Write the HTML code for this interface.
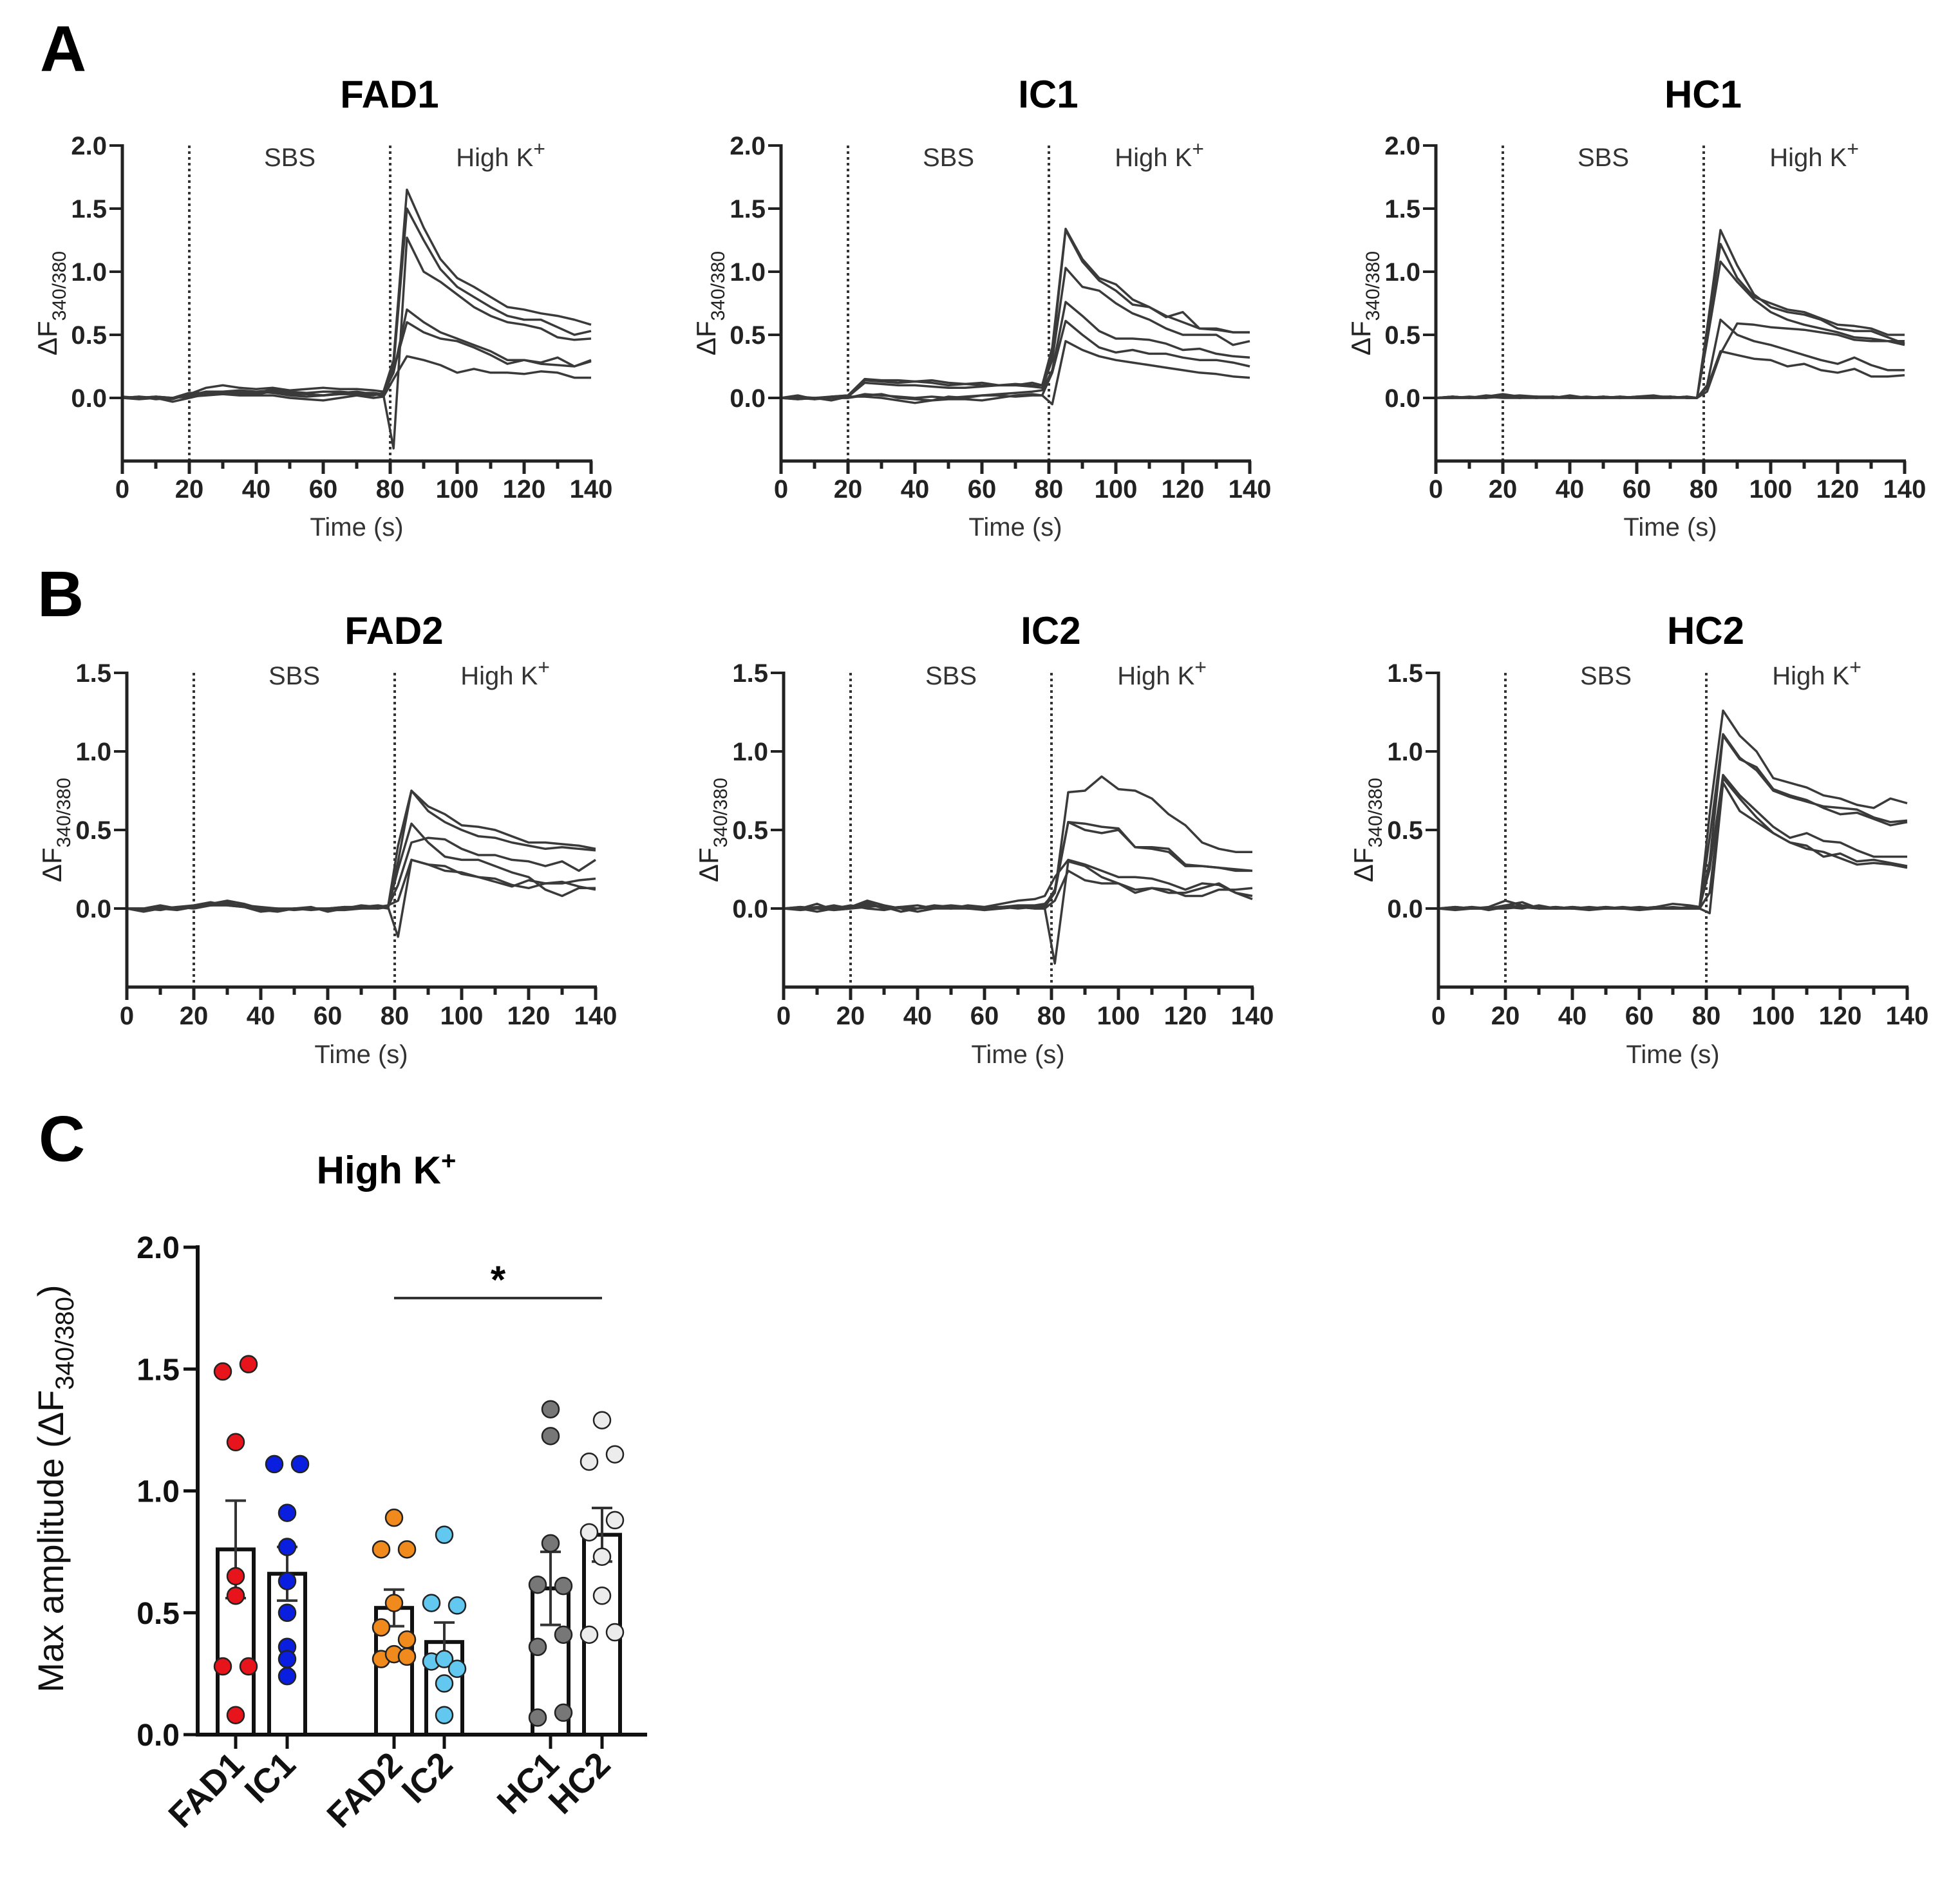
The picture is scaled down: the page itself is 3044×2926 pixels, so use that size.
<!DOCTYPE html>
<html>
<head>
<meta charset="utf-8">
<style>
html,body{margin:0;padding:0;background:#fff;}
svg{display:block;font-family:"Liberation Sans",Arial,sans-serif;}
</style>
</head>
<body>
<svg id="fig" width="3044" height="2926" viewBox="0 0 3044 2926" xmlns="http://www.w3.org/2000/svg">
<rect x="0" y="0" width="3044" height="2926" fill="#fff"/>
<text x="62" y="110" font-size="100" font-weight="bold">A</text>
<text x="58" y="957" font-size="100" font-weight="bold">B</text>
<text x="60" y="1803" font-size="100" font-weight="bold">C</text>
<g id="plots"></g>
</svg>
<script>
// ---------- Trace data ----------
const times = [0,5,10,15,20,25,30,35,40,45,50,55,60,65,70,75,78,81,85,90,95,100,105,110,115,120,125,130,135,140];
const panelTitles = ["FAD1","IC1","HC1","FAD2","IC2","HC2"];
const rowATicks = [0,0.5,1,1.5,2];
const rowATickLabels = ["0.0","0.5","1.0","1.5","2.0"];
const rowBTicks = [0,0.5,1,1.5];
const rowBTickLabels = ["0.0","0.5","1.0","1.5"];
const xTicks = [0,20,40,60,80,100,120,140];
const xMinor = [10,30,50,70,90,110,130];

const fad1 = [
 [0,0.01,0,-0.01,0.03,0.08,0.1,0.08,0.07,0.08,0.06,0.07,0.08,0.07,0.07,0.06,0.05,0.3,1.65,1.35,1.1,0.95,0.88,0.8,0.72,0.7,0.67,0.65,0.62,0.58],
 [0,0,0.01,0,0.02,0.05,0.05,0.06,0.05,0.06,0.05,0.04,0.05,0.05,0.04,0.04,0.03,0.25,1.5,1.25,1.02,0.88,0.8,0.72,0.65,0.62,0.62,0.56,0.5,0.53],
 [0,-0.01,0,-0.03,0,0.03,0.04,0.05,0.04,0.07,0.03,0.03,0.02,0.03,0.04,0.03,0.02,-0.4,1.27,1.0,0.92,0.82,0.72,0.65,0.6,0.58,0.55,0.48,0.46,0.47],
 [0.01,0,0,0,0.04,0.04,0.03,0.04,0.05,0.04,0.02,0.01,0.02,0.03,0.03,0.02,0.04,0.2,0.7,0.6,0.52,0.47,0.42,0.37,0.3,0.3,0.28,0.32,0.25,0.3],
 [0,0.01,-0.01,0,0.02,0.03,0.04,0.03,0.03,0.05,0.04,0.03,0.02,0.04,0.05,0.03,0.02,0.22,0.6,0.52,0.47,0.45,0.4,0.34,0.27,0.3,0.27,0.26,0.25,0.29],
 [0,0,0.01,0,0.01,0.02,0.03,0.02,0.02,0.02,0,-0.01,-0.02,0,0.02,0,0.01,0.15,0.33,0.3,0.26,0.2,0.23,0.2,0.2,0.19,0.21,0.2,0.16,0.16]
];
const ic1 = [
 [0,0.02,-0.01,0.01,0.02,0.15,0.14,0.14,0.13,0.14,0.12,0.11,0.12,0.1,0.1,0.12,0.1,0.4,1.34,1.1,0.95,0.9,0.78,0.72,0.64,0.68,0.55,0.55,0.52,0.52],
 [0,-0.01,0,0.01,0.02,0.14,0.13,0.12,0.13,0.12,0.1,0.11,0.1,0.1,0.11,0.1,0.1,0.35,1.33,1.08,0.93,0.85,0.74,0.72,0.65,0.6,0.55,0.54,0.52,0.52],
 [0,0.01,0,0,0.01,0.12,0.11,0.1,0.1,0.09,0.08,0.08,0.09,0.1,0.1,0.09,0.08,0.3,1.03,0.88,0.85,0.75,0.67,0.62,0.55,0.5,0.5,0.5,0.42,0.45],
 [0,0,-0.01,0,0,0.02,0.03,0,-0.01,-0.02,0.01,0,0.02,0.03,0.04,0.05,0.06,0.22,0.76,0.65,0.53,0.47,0.47,0.46,0.43,0.38,0.39,0.35,0.33,0.32],
 [0,0,0,-0.02,0.01,0.01,0,-0.02,-0.04,-0.02,-0.01,-0.01,-0.02,0,0.02,0.03,0.02,0.2,0.61,0.5,0.4,0.36,0.38,0.35,0.35,0.32,0.3,0.3,0.28,0.25],
 [0,-0.01,0,0,0,0.03,0.02,0.01,0,0.01,0,0.01,0.02,0.02,0.01,0.02,0.02,-0.05,0.45,0.38,0.33,0.3,0.28,0.26,0.24,0.22,0.2,0.19,0.17,0.16]
];
const hc1 = [
 [0,0.01,0,0.02,0.01,0,0.01,0,0.02,0,0.01,0,0.01,0.02,0,0.01,0,0.55,1.33,1.05,0.82,0.72,0.68,0.66,0.62,0.55,0.53,0.53,0.48,0.43],
 [0,0,0.01,0,0.02,0.01,0,0.01,0,0.01,0,0.01,0,0.01,0.01,0,0,0.5,1.22,0.95,0.8,0.75,0.7,0.68,0.63,0.58,0.57,0.55,0.5,0.5],
 [0,0.01,0,0.01,0,0,0.01,0.01,0,0,0.01,0,0,0,0.01,0,0,0.45,1.08,0.92,0.78,0.68,0.62,0.58,0.55,0.52,0.48,0.47,0.45,0.42],
 [0,0,0,0.01,0.03,0.01,0,0,0.01,0,0,0,0.01,0,0,0.01,0,0.1,0.62,0.5,0.45,0.42,0.38,0.34,0.3,0.27,0.32,0.26,0.22,0.22],
 [0,0.01,0,0,0.01,0.02,0.01,0,0,0,0,0.01,0,0,0,0,0,0.05,0.35,0.59,0.58,0.56,0.55,0.54,0.52,0.5,0.46,0.45,0.45,0.45],
 [0,0,0,0,0.02,0,0,0.01,0,0,0,0,0,0,0.01,0,0,0.08,0.37,0.34,0.31,0.3,0.25,0.27,0.22,0.2,0.23,0.17,0.17,0.18]
];
const fad2 = [
 [0,-0.01,0.01,0,0.02,0.03,0.04,0.01,0,-0.01,0,0,-0.01,0,0.01,0,0.01,0.4,0.75,0.65,0.6,0.53,0.52,0.5,0.46,0.42,0.42,0.41,0.4,0.38],
 [0,0,0,-0.01,0.01,0.02,0.03,0.02,0.01,0,0,-0.01,0,0.01,0.01,0.02,0.01,0.3,0.75,0.62,0.55,0.5,0.46,0.45,0.42,0.4,0.38,0.39,0.38,0.37],
 [0,-0.02,0,0.01,0.02,0.04,0.02,0.01,-0.02,-0.01,0,0.01,-0.02,0,0.02,0.01,0,0.25,0.54,0.42,0.33,0.31,0.31,0.27,0.23,0.2,0.12,0.08,0.13,0.13],
 [0,0,0.02,0,0.01,0.03,0.05,0.03,0,0,-0.01,0,0,0,0.01,0.01,0.01,0.15,0.42,0.45,0.44,0.38,0.34,0.34,0.31,0.3,0.27,0.3,0.24,0.31],
 [0,-0.01,0,0,0.01,0.02,0.02,0.01,-0.01,-0.02,0,0,-0.01,-0.01,0,0,0.01,-0.18,0.31,0.28,0.24,0.23,0.2,0.17,0.14,0.18,0.16,0.16,0.18,0.19],
 [0,0,-0.01,0.01,0,0.02,0.03,0.01,0,-0.01,0,0,0,0.01,0,0.01,0.02,0.05,0.31,0.28,0.27,0.22,0.2,0.19,0.15,0.13,0.16,0.17,0.14,0.12]
];
const ic2 = [
 [0,0.01,0,0.02,0,0.04,0,0.01,0,0.02,0.01,0,-0.01,0.01,0.02,0.02,0.03,0.1,0.74,0.75,0.84,0.76,0.75,0.7,0.6,0.53,0.42,0.38,0.36,0.36],
 [0,0,0.03,-0.01,0,0.02,0.01,-0.02,0,0.01,0.02,0.01,-0.01,0,0.01,0.01,0.02,0.12,0.55,0.54,0.52,0.51,0.39,0.39,0.38,0.28,0.27,0.26,0.24,0.24],
 [0,-0.01,0,0.01,0.01,0.03,0,0.01,0.02,0,0,0.02,0.01,0.01,0,0.01,0.01,0.1,0.55,0.5,0.48,0.5,0.39,0.38,0.36,0.27,0.27,0.26,0.25,0.24],
 [0,0,-0.02,0,0.01,0.05,0.02,-0.02,0,0.01,0,0,0.01,0.03,0.05,0.06,0.08,0.2,0.31,0.28,0.24,0.2,0.2,0.19,0.16,0.12,0.16,0.15,0.1,0.06],
 [0,0.01,0,-0.01,0,0.01,0.02,0,-0.02,0,0.01,0,0,0.01,0.01,0,0,-0.35,0.3,0.27,0.2,0.16,0.12,0.13,0.1,0.1,0.13,0.16,0.1,0.08],
 [0,0,0.01,0,0.02,0,-0.01,0.01,0,0.01,0,0.01,0,0,0.01,0,0,0.05,0.24,0.18,0.16,0.16,0.1,0.13,0.12,0.08,0.08,0.12,0.12,0.13]
];
const hc2 = [
 [0,0.01,0,0,0.02,0.04,0,0,0.01,0,0.01,0,0,0.01,0.03,0.02,0.01,0.6,1.26,1.1,1.0,0.83,0.8,0.77,0.72,0.7,0.66,0.64,0.7,0.67],
 [0,0,0.01,-0.01,0.01,0.02,0.01,0,0,-0.01,0,0.01,0,0,0.01,0,0,0.45,1.11,0.96,0.88,0.75,0.71,0.68,0.65,0.64,0.63,0.58,0.55,0.56],
 [0,-0.01,0,0,0,0.01,0,0.01,0,0,0.01,0,-0.01,0,0,0.01,0,0.3,1.1,0.95,0.9,0.76,0.72,0.69,0.64,0.6,0.61,0.57,0.53,0.55],
 [0,0,0.01,0,0.01,0,0.02,0,0.01,0,0,0,0.01,0,0,0,0.01,0.25,0.85,0.72,0.62,0.52,0.45,0.48,0.43,0.42,0.37,0.33,0.33,0.33],
 [0,0.01,0,0.01,0.05,0.02,0,0,0,0.01,0,0,0,0.01,0,0,0,0.1,0.83,0.7,0.58,0.48,0.42,0.4,0.33,0.35,0.3,0.31,0.29,0.27],
 [0,0,0,0,0.02,0.01,0,0.01,0,0,0,0,0,0,0,0,0,-0.03,0.8,0.62,0.55,0.48,0.42,0.38,0.36,0.32,0.28,0.29,0.28,0.26]
];
const panelSeries = [fad1, ic1, hc1, fad2, ic2, hc2];

// ---------- Bar chart data (panel C) ----------
const groups = ["FAD1","IC1","FAD2","IC2","HC1","HC2"];
const groupMeans = [0.76,0.66,0.52,0.38,0.60,0.82];
const groupSem = [0.20,0.11,0.075,0.08,0.15,0.11];
const groupFill = ["#e8141b","#0a1ee0","#f08a1c","#62c8f0","#777777","#ececec"];
const ptsFAD1 = [1.49,1.52,1.20,0.65,0.57,0.28,0.28,0.08];
const ptsIC1 = [1.11,1.11,0.91,0.77,0.63,0.50,0.36,0.31,0.24];
const ptsFAD2 = [0.89,0.76,0.76,0.54,0.44,0.39,0.31,0.33,0.32];
const ptsIC2 = [0.82,0.54,0.53,0.30,0.31,0.27,0.21,0.08];
const ptsHC1 = [1.335,1.225,0.785,0.615,0.61,0.36,0.41,0.07,0.09];
const ptsHC2 = [1.29,1.12,1.15,0.83,0.88,0.73,0.57,0.41,0.42];
const groupPoints = [ptsFAD1, ptsIC1, ptsFAD2, ptsIC2, ptsHC1, ptsHC2];
// scatter side per point (-1 left, 0 centre, 1 right)
const sideFAD1 = [-1,1,0,0,0,-1,1,0];
const sideIC1 = [-1,1,0,0,0,0,0,0,0];
const sideFAD2 = [0,-1,1,0,-1,1,-1,0,1];
const sideIC2 = [0,-1,1,-1,0,1,0,0];
const sideHC1 = [0,0,0,-1,1,-1,1,-1,1];
const sideHC2 = [0,-1,1,-1,1,0,0,-1,1];
const groupSides = [sideFAD1, sideIC1, sideFAD2, sideIC2, sideHC1, sideHC2];
const cTicks = [0,0.5,1,1.5,2];
const cTickLabels = ["0.0","0.5","1.0","1.5","2.0"];

const NS = "http://www.w3.org/2000/svg";
const root = document.getElementById("plots");
function mk(tag, attrs, parent, text) {
  const e = document.createElementNS(NS, tag);
  for (const k in attrs) e.setAttribute(k, attrs[k]);
  if (text !== undefined) e.textContent = text;
  (parent || root).appendChild(e);
  return e;
}

const rows = [
  {axisX:[190,1213,2230], y0:618, unit:196, ymax:2, ticks:rowATicks, labels:rowATickLabels, titleY:167, labY:258, tickLabY:773, timeY:832},
  {axisX:[197,1217,2234], y0:1411, unit:244, ymax:1.5, ticks:rowBTicks, labels:rowBTickLabels, titleY:1000, labY:1063, tickLabY:1591, timeY:1651}
];
const xSpan = 728;

for (let p = 0; p < 6; p++) {
  const r = rows[Math.floor(p/3)];
  const ax = r.axisX[p%3];
  const sx = t => ax + t / 140 * xSpan;
  const sy = v => r.y0 - v * r.unit;
  const g = mk("g", {});
  
  
  const yTop = sy(r.ymax), yBot = sy(-0.5);
  const tt = mk("text", {x: ax + xSpan*0.57, y: r.titleY, "font-size": 60, "font-weight": "bold", "text-anchor": "middle"}, g, panelTitles[p]);
  
  
  [20, 80].forEach(t => {
    const dl = mk("line", {x1: sx(t), x2: sx(t), y1: yTop, y2: yBot, stroke: "#333", "stroke-width": 4, "stroke-dasharray": "4 5"}, g);
    
    
  });
  const sbs = mk("text", {x: sx(50), y: r.labY, "font-size": 40, fill: "#333", "text-anchor": "middle"}, g, "SBS");
  
  
  const hk = mk("text", {x: sx(113), y: r.labY, "font-size": 40, fill: "#333", "text-anchor": "middle"}, g);
  
  
  mk("tspan", {}, hk, "High K");
  mk("tspan", {dy: -16, "font-size": 32}, hk, "+");
  panelSeries[p].forEach((vals, i) => {
    const d = vals.map((v, k) => (k ? "L" : "M") + sx(times[k]).toFixed(1) + "," + sy(v).toFixed(1)).join(" ");
    const pl = mk("path", {d: d, fill: "none", stroke: "#3a3a3a", "stroke-width": 3.5, "stroke-linejoin": "round"}, g);
    
    
  });
  const ya = mk("line", {x1: ax, x2: ax, y1: yTop - 2, y2: yBot + 2, stroke: "#222", "stroke-width": 5}, g);
  
  
  const xa = mk("line", {x1: ax - 2, x2: ax + xSpan + 2, y1: yBot, y2: yBot, stroke: "#222", "stroke-width": 5}, g);
  
  
  r.ticks.forEach((v, i) => {
    mk("line", {x1: ax - 20, x2: ax, y1: sy(v), y2: sy(v), stroke: "#222", "stroke-width": 4}, g);
    const tl = mk("text", {x: ax - 24, y: sy(v) + 14, "font-size": 40, "font-weight": "bold", "text-anchor": "end", fill: "#222"}, g, r.labels[i]);
    
    
  });
  xTicks.forEach(t => {
    mk("line", {x1: sx(t), x2: sx(t), y1: yBot, y2: yBot + 20, stroke: "#222", "stroke-width": 5}, g);
    const tl = mk("text", {x: sx(t), y: r.tickLabY, "font-size": 40, "font-weight": "bold", "text-anchor": "middle", fill: "#222"}, g, String(t));
    
    
  });
  xMinor.forEach(t => {
    mk("line", {x1: sx(t), x2: sx(t), y1: yBot, y2: yBot + 12, stroke: "#222", "stroke-width": 5}, g);
  });
  const xt = mk("text", {x: sx(70), y: r.timeY, "font-size": 40, fill: "#333", "text-anchor": "middle"}, g, "Time (s)");
  
  
  const ycx = ax - 102, ycy = (yTop + yBot) / 2;
  const yt = mk("text", {x: ycx, y: ycy, "font-size": 42, fill: "#222", "text-anchor": "middle", transform: "rotate(-90 " + ycx + " " + ycy + ")"}, g);
  
  
  mk("tspan", {}, yt, "ΔF");
  mk("tspan", {dy: 14, "font-size": 30}, yt, "340/380");
}

// ---------- Panel C ----------
(function(){
  const ax = 307, y0 = 2694, unit = 378.5, xEnd = 1005;
  const cx = [366, 446, 612, 690, 855, 935];
  const sy = v => y0 - v * unit;
  const g = mk("g", {});
  
  
  const t = mk("text", {x: 600, y: 1838, "font-size": 60, "font-weight": "bold", "text-anchor": "middle"}, g);
  
  
  mk("tspan", {}, t, "High K");
  mk("tspan", {dy: -22, "font-size": 40}, t, "+");
  const bw = 56;
  groups.forEach((name, i) => {
    const top = sy(groupMeans[i]);
    const bar = mk("rect", {x: cx[i] - bw/2, y: top, width: bw, height: y0 - top, fill: "#fff", stroke: "#111", "stroke-width": 6}, g);
    
    
    const eh = sy(groupMeans[i] + groupSem[i]), el = sy(groupMeans[i] - groupSem[i]);
    const eb = mk("path", {d: "M" + cx[i] + "," + el + " V" + eh + " M" + (cx[i]-16) + "," + eh + " H" + (cx[i]+16) + " M" + (cx[i]-16) + "," + el + " H" + (cx[i]+16), stroke: "#333", "stroke-width": 4, fill: "none"}, g);
    
    
  });
  groupPoints.forEach((pts, i) => {
    pts.forEach((v, k) => {
      const off = (groupSides[i][k] || 0) * 20;
      const c = mk("circle", {cx: cx[i] + off, cy: sy(v), r: 13, fill: groupFill[i], stroke: "#222", "stroke-width": 2.5}, g);
      
      
    });
  });
  const ya = mk("line", {x1: ax, x2: ax, y1: sy(2) - 3, y2: y0 + 3, stroke: "#111", "stroke-width": 6}, g);
  
  
  const xa = mk("line", {x1: ax - 3, x2: xEnd, y1: y0, y2: y0, stroke: "#111", "stroke-width": 6}, g);
  
  
  cTicks.forEach((v, i) => {
    mk("line", {x1: ax - 22, x2: ax, y1: sy(v), y2: sy(v), stroke: "#111", "stroke-width": 5}, g);
    const tl = mk("text", {x: ax - 28, y: sy(v) + 17, "font-size": 48, "font-weight": "bold", "text-anchor": "end", fill: "#111"}, g, cTickLabels[i]);
    
    
  });
  groups.forEach((name, i) => {
    mk("line", {x1: cx[i], x2: cx[i], y1: y0, y2: y0 + 22, stroke: "#111", "stroke-width": 5}, g);
    const lx = cx[i] + 16, ly = y0 + 50;
    const tl = mk("text", {x: lx, y: ly, "font-size": 54, "font-weight": "bold", "text-anchor": "end", fill: "#111", transform: "rotate(-45 " + lx + " " + ly + ")"}, g, name);
    
    
  });
  const sig = mk("line", {x1: cx[2], x2: cx[5], y1: 2016, y2: 2016, stroke: "#333", "stroke-width": 4}, g);
  
  
  const st = mk("text", {x: (cx[2] + cx[5]) / 2, y: 2008, "font-size": 60, "font-weight": "bold", "text-anchor": "middle"}, g, "*");
  
  
  const ycx = 98, ycy = 2312;
  const yt = mk("text", {x: ycx, y: ycy, "font-size": 56, fill: "#111", "text-anchor": "middle", transform: "rotate(-90 " + ycx + " " + ycy + ")"}, g);
  
  
  mk("tspan", {}, yt, "Max amplitude (ΔF");
  mk("tspan", {dy: 16, "font-size": 40}, yt, "340/380");
  mk("tspan", {dy: -16}, yt, ")");
})();
</script>
</body>
</html>
